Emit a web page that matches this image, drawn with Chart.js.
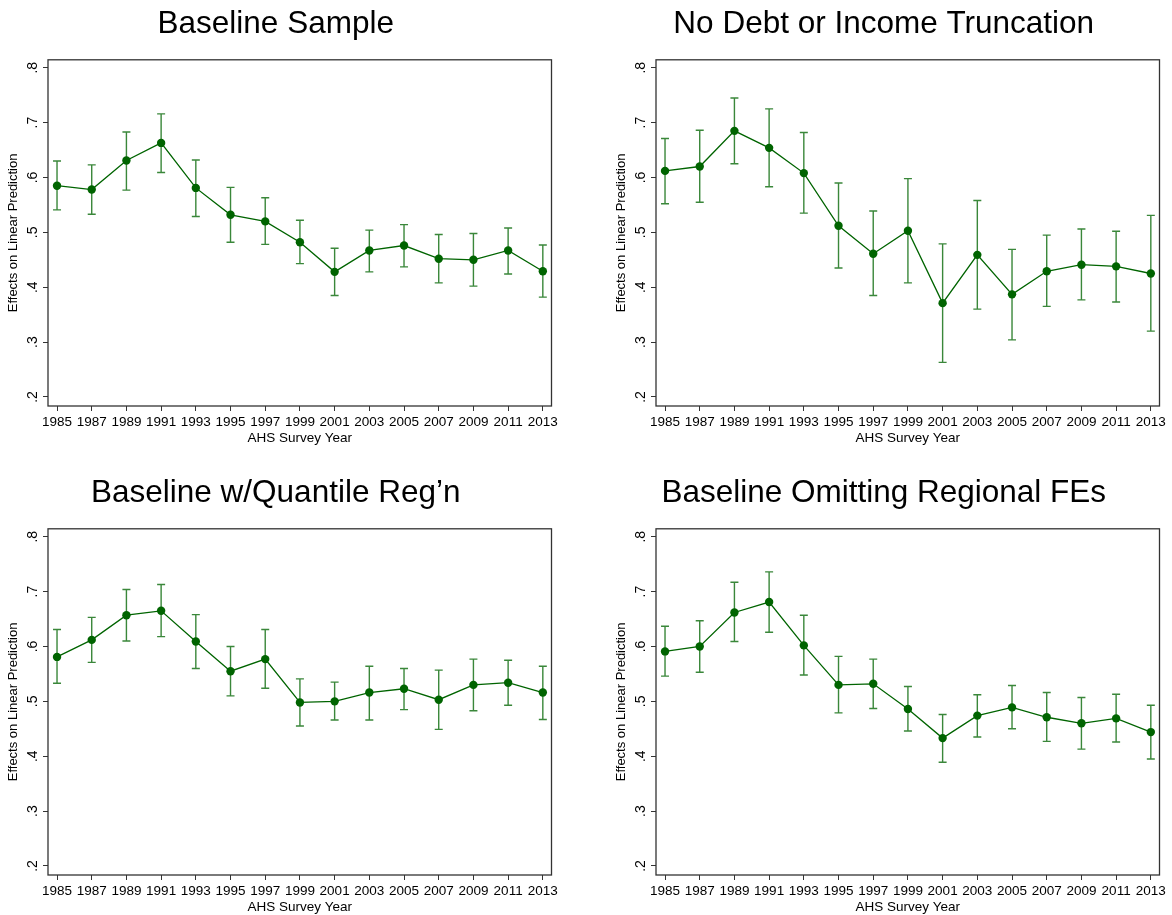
<!DOCTYPE html>
<html>
<head>
<meta charset="utf-8">
<script src="https://cdn.jsdelivr.net/npm/chart.js@4.4.0/dist/chart.umd.min.js"></script>
<style>
  html, body { margin: 0; padding: 0; background: #fff; overflow: hidden; width: 1172px; height: 915px; }
  .panel { position: absolute; width: 564px; height: 457px; }
</style>
</head>
<body>
<div class="panel" style="left:0;top:0"><canvas id="c0"></canvas></div>
<div class="panel" style="left:608px;top:0"><canvas id="c1"></canvas></div>
<div class="panel" style="left:0;top:469px"><canvas id="c2"></canvas></div>
<div class="panel" style="left:608px;top:469px"><canvas id="c3"></canvas></div>
<script>
const years = [1985, 1987, 1989, 1991, 1993, 1995, 1997, 1999, 2001, 2003, 2005, 2007, 2009, 2011, 2013];
const yTicks = [0.2, 0.3, 0.4, 0.5, 0.6, 0.7, 0.8];
const yTickLabels = ['.2', '.3', '.4', '.5', '.6', '.7', '.8'];
const titles = ['Baseline Sample', 'No Debt or Income Truncation', 'Baseline w/Quantile Reg\u2019n', 'Baseline Omitting Regional FEs'];

// point estimates and 95% CI bounds, one set per panel
const baseEst = [0.585, 0.578, 0.631, 0.663, 0.581, 0.532, 0.520, 0.482, 0.428, 0.467, 0.476, 0.452, 0.450, 0.467, 0.429];
const baseLo  = [0.541, 0.533, 0.577, 0.609, 0.529, 0.482, 0.478, 0.443, 0.385, 0.428, 0.437, 0.408, 0.402, 0.424, 0.382];
const baseHi  = [0.630, 0.623, 0.683, 0.716, 0.632, 0.582, 0.563, 0.522, 0.471, 0.504, 0.514, 0.496, 0.498, 0.508, 0.477];

const noTruncEst = [0.612, 0.620, 0.685, 0.654, 0.608, 0.512, 0.461, 0.503, 0.371, 0.459, 0.387, 0.429, 0.441, 0.438, 0.425];
const noTruncLo  = [0.552, 0.555, 0.625, 0.583, 0.535, 0.435, 0.385, 0.408, 0.263, 0.360, 0.304, 0.365, 0.377, 0.373, 0.320];
const noTruncHi  = [0.671, 0.686, 0.745, 0.725, 0.682, 0.590, 0.539, 0.598, 0.479, 0.558, 0.469, 0.495, 0.506, 0.502, 0.531];

const quantEst = [0.581, 0.612, 0.657, 0.665, 0.609, 0.555, 0.577, 0.498, 0.500, 0.516, 0.523, 0.503, 0.530, 0.534, 0.516];
const quantLo  = [0.533, 0.571, 0.610, 0.618, 0.560, 0.510, 0.524, 0.455, 0.466, 0.466, 0.485, 0.449, 0.483, 0.493, 0.467];
const quantHi  = [0.631, 0.653, 0.704, 0.713, 0.658, 0.600, 0.631, 0.541, 0.535, 0.564, 0.560, 0.557, 0.577, 0.575, 0.564];

const noRegEst = [0.591, 0.600, 0.662, 0.681, 0.602, 0.530, 0.532, 0.486, 0.433, 0.474, 0.489, 0.471, 0.460, 0.469, 0.444];
const noRegLo  = [0.546, 0.553, 0.609, 0.626, 0.548, 0.479, 0.487, 0.446, 0.389, 0.435, 0.450, 0.427, 0.413, 0.426, 0.395];
const noRegHi  = [0.637, 0.647, 0.717, 0.736, 0.657, 0.582, 0.577, 0.527, 0.476, 0.512, 0.529, 0.516, 0.507, 0.513, 0.493];

const panels = [
  [baseEst, baseLo, baseHi],
  [noTruncEst, noTruncLo, noTruncHi],
  [quantEst, quantLo, quantHi],
  [noRegEst, noRegLo, noRegHi]
];

const FONT = 'Liberation Sans, Arial, Helvetica, sans-serif';
const markColor = '#006400';
const ciColor = '#3a873a';

// CI whiskers, drawn under the line and markers
const errorBars = {
  id: 'errorBars',
  beforeDatasetsDraw(chart) {
    const {ctx, scales: {x, y}} = chart;
    const ds = chart.data.datasets[0];
    ctx.save();
    ctx.strokeStyle = ciColor;
    ctx.lineWidth = 1.4;
    ds.lo.forEach((lo, i) => {
      const px = x.getPixelForValue(years[i]);
      const p1 = y.getPixelForValue(lo);
      const p2 = y.getPixelForValue(ds.hi[i]);
      ctx.beginPath();
      ctx.moveTo(px, p1); ctx.lineTo(px, p2);
      ctx.moveTo(px - 4, p1); ctx.lineTo(px + 4, p1);
      ctx.moveTo(px - 4, p2); ctx.lineTo(px + 4, p2);
      ctx.stroke();
    });
    ctx.restore();
  }
};

// plot box + rotated y tick labels (stata style)
const frame = {
  id: 'frame',
  afterDraw(chart) {
    const {ctx, chartArea: a, scales: {y}} = chart;
    ctx.save();
    ctx.strokeStyle = '#333';
    ctx.lineWidth = 1.3;
    ctx.strokeRect(a.left, a.top, a.right - a.left, a.bottom - a.top);
    ctx.fillStyle = '#000';
    ctx.font = '14px ' + FONT;
    ctx.textAlign = 'center';
    ctx.textBaseline = 'middle';
    yTicks.forEach((v, i) => {
      ctx.save();
      ctx.translate(a.left - 15, y.getPixelForValue(v));
      ctx.rotate(-Math.PI / 2);
      ctx.fillText(yTickLabels[i], 0, 0);
      ctx.restore();
    });
    ctx.restore();
  }
};

panels.forEach(([est, lo, hi], k) => {
  new Chart(document.getElementById('c' + k), {
    type: 'line',
    data: {
      datasets: [{
        data: years.map((yr, i) => ({x: yr, y: est[i]})),
        lo: lo,
        hi: hi,
        borderColor: markColor,
        backgroundColor: markColor,
        borderWidth: 1.3,
        pointRadius: 4.2,
        pointBorderWidth: 0,
        tension: 0
      }]
    },
    options: {
      responsive: true,
      maintainAspectRatio: false,
      animation: false,
      layout: { padding: { right: 12.5 } },
      plugins: {
        legend: { display: false },
        tooltip: { enabled: false },
        title: {
          display: true,
          text: titles[k],
          color: '#000',
          font: { family: FONT, size: 31.5, weight: 'normal' },
          padding: { top: 5, bottom: 17 }
        }
      },
      scales: {
        x: {
          type: 'linear',
          min: 1984.48,
          max: 2013.5,
          afterBuildTicks: s => { s.ticks = years.map(v => ({value: v})); },
          afterFit: s => { s.height = 51; },
          ticks: {
            callback: v => String(v),
            color: '#000',
            font: { family: FONT, size: 13.5 },
            maxRotation: 0,
            autoSkip: false,
            padding: 3
          },
          grid: { drawOnChartArea: false, tickLength: 5, color: '#333' },
          border: { display: false },
          title: {
            display: true,
            text: 'AHS Survey Year',
            color: '#000',
            font: { family: FONT, size: 13.5 },
            padding: { top: 0, bottom: 11 }
          }
        },
        y: {
          min: 0.1835,
          max: 0.8145,
          afterBuildTicks: s => { s.ticks = yTicks.map(v => ({value: v})); },
          afterFit: s => { s.width = 48; },
          ticks: { display: false },
          grid: { drawOnChartArea: false, tickLength: 5, color: '#333' },
          border: { display: false },
          title: {
            display: true,
            text: 'Effects on Linear Prediction',
            color: '#000',
            font: { family: FONT, size: 13 },
            padding: { top: 6, bottom: 0 }
          }
        }
      }
    },
    plugins: [errorBars, frame]
  });
});
</script>
</body>
</html>
